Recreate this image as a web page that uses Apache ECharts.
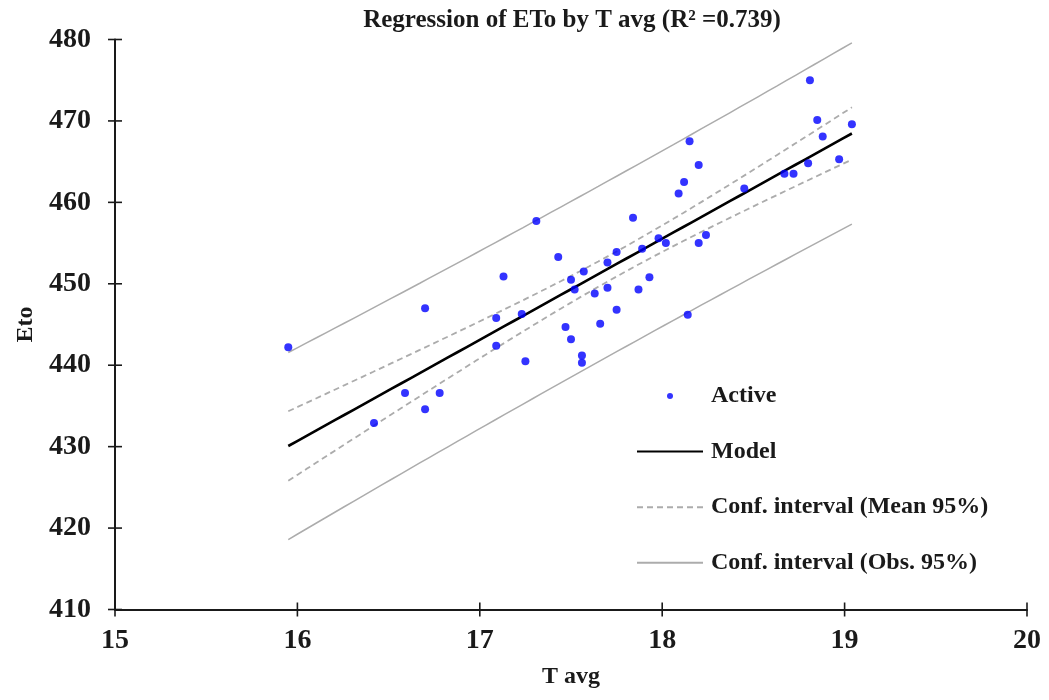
<!DOCTYPE html>
<html>
<head>
<meta charset="utf-8">
<script src="https://cdn.jsdelivr.net/npm/echarts@6/dist/echarts.min.js"></script>
<style>
  html, body { margin: 0; padding: 0; background: #fff; }
  #chart { width: 1049px; height: 700px; }
</style>
</head>
<body>
<div id="chart"></div>
<script>
// Observations: average temperature (T avg) and reference evapotranspiration (ETo)
const tAvg = [
  15.95, 16.42, 16.59, 16.70, 16.70, 16.78, 17.09, 17.09, 17.13, 17.23,
  17.25, 17.31, 17.43, 17.47, 17.50, 17.50, 17.52, 17.56, 17.56, 17.57,
  17.63, 17.66, 17.70, 17.70, 17.75, 17.75, 17.84, 17.87, 17.89, 17.93,
  17.98, 18.02, 18.09, 18.12, 18.14, 18.15, 18.20, 18.20, 18.24, 18.45,
  18.67, 18.72, 18.80, 18.81, 18.85, 18.88, 18.97, 19.04
];
const eto = [
  442.2, 432.9, 436.6, 434.6, 447.0, 436.6, 442.4, 445.8, 450.9, 446.3,
  440.5, 457.7, 453.3, 444.7, 450.5, 443.2, 449.3, 441.2, 440.3, 451.5,
  448.8, 445.1, 452.6, 449.5, 446.8, 453.9, 458.1, 449.3, 454.3, 450.8,
  455.6, 455.0, 461.1, 462.5, 446.2, 467.5, 464.6, 455.0, 456.0, 461.7,
  463.5, 463.5, 464.8, 475.0, 470.1, 468.1, 465.3, 469.6
];

// Axis ranges and tick steps
const xTicks = { min: 15, max: 20, step: 1 };
const yTicks = { min: 410, max: 480, step: 10 };

const seriesNames = ['Active', 'Model', 'Conf. interval (Mean 95%)', 'Conf. interval (Obs. 95%)'];

// Ordinary least squares fit of ETo on T avg, with 95% bands
const T_975_DF46 = 2.0129;
function fitBands(xs, ys, steps) {
  const n = xs.length;
  const mx = xs.reduce((s, v) => s + v, 0) / n;
  const my = ys.reduce((s, v) => s + v, 0) / n;
  let sxx = 0, sxy = 0;
  for (let i = 0; i < n; i++) {
    sxx += (xs[i] - mx) * (xs[i] - mx);
    sxy += (xs[i] - mx) * (ys[i] - my);
  }
  const b = sxy / sxx, a = my - b * mx;
  let sse = 0;
  for (let i = 0; i < n; i++) { const r = ys[i] - (a + b * xs[i]); sse += r * r; }
  const s = Math.sqrt(sse / (n - 2));
  const lo = Math.min(...xs), hi = Math.max(...xs);
  const out = { model: [], meanLo: [], meanHi: [], obsLo: [], obsHi: [] };
  for (let k = 0; k <= steps; k++) {
    const x = lo + (hi - lo) * k / steps;
    const y = a + b * x;
    const lev = 1 / n + (x - mx) * (x - mx) / sxx;
    const hm = T_975_DF46 * s * Math.sqrt(lev);
    const ho = T_975_DF46 * s * Math.sqrt(1 + lev);
    out.model.push([x, y]);
    out.meanLo.push([x, y - hm]); out.meanHi.push([x, y + hm]);
    out.obsLo.push([x, y - ho]); out.obsHi.push([x, y + ho]);
  }
  return out;
}
const bands = fitBands(tAvg, eto, 60);

// tick positions along each axis
function tickValues(t) {
  const out = [];
  for (let v = t.min; v <= t.max + 1e-9; v += t.step) out.push([v]);
  return out;
}

const serif = '"Liberation Serif", "DejaVu Serif", serif';
const ink = '#1a1a1a';
const grey = '#acacac';
const TICK_HALF = 7;

const chart = echarts.init(document.getElementById('chart'), null, { renderer: 'canvas' });

function bandLine(name, data, dashed) {
  return {
    name, type: 'line', data, symbol: 'none', showSymbol: false, silent: true,
    lineStyle: { color: grey, width: dashed ? 1.8 : 1.5, type: dashed ? [6, 4] : 'solid' },
    itemStyle: { color: grey }, z: 2
  };
}

// crossing tick marks, centred on the axis line
function tickCross(dim) {
  return {
    type: 'custom', silent: true, clip: false, z: 6,
    data: tickValues(dim === 'x' ? xTicks : yTicks),
    renderItem(params, api) {
      const v = api.value(0);
      const p = dim === 'x' ? api.coord([v, yTicks.min]) : api.coord([xTicks.min, v]);
      const shape = dim === 'x'
        ? { x1: p[0], y1: p[1] - TICK_HALF, x2: p[0], y2: p[1] + TICK_HALF }
        : { x1: p[0] - TICK_HALF, y1: p[1], x2: p[0] + TICK_HALF, y2: p[1] };
      return { type: 'line', shape, style: { stroke: ink, lineWidth: 1.6 } };
    }
  };
}

chart.setOption({
  animation: false,
  backgroundColor: '#fff',
  title: {
    text: 'Regression of ETo by T avg (R² =0.739)',
    left: 567, top: 3, textAlign: 'center',
    textStyle: { fontFamily: serif, fontWeight: 'bold', fontSize: 25, color: ink }
  },
  grid: { left: 115, right: 22, top: 39.5, bottom: 90.5, containLabel: false },
  legend: {
    orient: 'vertical', left: 631, top: 379,
    itemWidth: 66, itemHeight: 6, itemGap: 31.6,
    selectedMode: false,
    textStyle: { fontFamily: serif, fontWeight: 'bold', fontSize: 24, color: ink, lineHeight: 24, padding: [0, 0, 0, 3] },
    data: [
      { name: seriesNames[0], icon: 'circle' },
      { name: seriesNames[1], itemStyle: { opacity: 0 } },
      { name: seriesNames[2], itemStyle: { opacity: 0 } },
      { name: seriesNames[3], itemStyle: { opacity: 0 } }
    ]
  },
  xAxis: {
    type: 'value', min: xTicks.min, max: xTicks.max, interval: xTicks.step,
    splitLine: { show: false },
    name: 'T avg', nameLocation: 'middle', nameGap: 55,
    nameTextStyle: { fontFamily: serif, fontWeight: 'bold', fontSize: 24, color: ink },
    axisLine: { lineStyle: { color: ink, width: 2 } },
    axisTick: { show: false },
    axisLabel: { margin: 17, fontFamily: serif, fontWeight: 'bold', fontSize: 28, color: ink }
  },
  yAxis: {
    type: 'value', min: yTicks.min, max: yTicks.max, interval: yTicks.step,
    splitLine: { show: false },
    name: 'Eto', nameLocation: 'middle', nameGap: 70, nameRotate: 90,
    nameTextStyle: { fontFamily: serif, fontWeight: 'bold', fontSize: 24, color: ink },
    axisLine: { show: true, lineStyle: { color: ink, width: 2 } },
    axisTick: { show: false },
    axisLabel: { margin: 24, fontFamily: serif, fontWeight: 'bold', fontSize: 28, color: ink }
  },
  series: [
    {
      name: seriesNames[0], type: 'scatter', symbol: 'circle', symbolSize: 8,
      data: tAvg.map((t, i) => [t, eto[i]]),
      itemStyle: { color: '#0000ff' }, z: 5
    },
    {
      name: seriesNames[1], type: 'line', data: bands.model, symbol: 'none', showSymbol: false,
      lineStyle: { color: '#000', width: 2.6 }, itemStyle: { color: '#000' }, z: 3
    },
    bandLine(seriesNames[2], bands.meanHi, true),
    bandLine(seriesNames[3], bands.obsHi, false),
    bandLine(seriesNames[2], bands.meanLo, true),
    bandLine(seriesNames[3], bands.obsLo, false),
    tickCross('x'),
    tickCross('y')
  ]
});
</script>
</body>
</html>
